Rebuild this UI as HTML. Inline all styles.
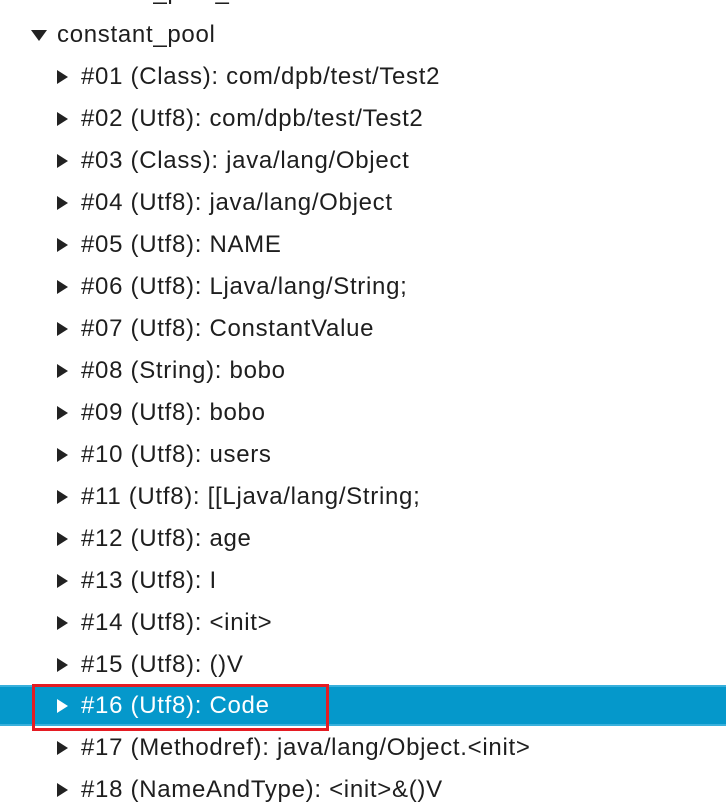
<!DOCTYPE html>
<html><head><style>
body{margin:0;width:726px;height:793px;overflow:hidden;background:#fff;font-family:"Liberation Sans",sans-serif;font-size:24px;letter-spacing:0.7px;color:#1e1e1e;position:relative}
.r{position:absolute;height:42px;line-height:42px;white-space:nowrap}
.t{position:absolute;width:0;height:0;border-top:7px solid transparent;border-bottom:7px solid transparent;border-left:11px solid #222;}
.d{position:absolute;width:0;height:0;border-left:8px solid transparent;border-right:8px solid transparent;border-top:11px solid #222}
.hl{position:absolute;left:0;top:685px;width:726px;height:41px;background:#0598cb;border-top:2px solid #39b0dc;border-bottom:2px solid #39b0dc;box-sizing:border-box}
.box{position:absolute;left:32px;top:684px;width:297px;height:47px;border:3px solid #e51c23;box-sizing:border-box}
</style></head><body>
<div class="r" style="left:57px;top:-29px">constant_pool_count: 36</div>
<div class="d" style="left:31px;top:30px"></div>
<div class="r" style="left:57px;top:14px">constant_pool</div>
<div class="hl"></div>
<div class="t" style="left:57px;top:70px"></div><div class="r" style="left:81px;top:56px">#01 (Class): com/dpb/test/Test2</div>
<div class="t" style="left:57px;top:112px"></div><div class="r" style="left:81px;top:98px">#02 (Utf8): com/dpb/test/Test2</div>
<div class="t" style="left:57px;top:154px"></div><div class="r" style="left:81px;top:140px">#03 (Class): java/lang/Object</div>
<div class="t" style="left:57px;top:196px"></div><div class="r" style="left:81px;top:182px">#04 (Utf8): java/lang/Object</div>
<div class="t" style="left:57px;top:238px"></div><div class="r" style="left:81px;top:224px">#05 (Utf8): NAME</div>
<div class="t" style="left:57px;top:280px"></div><div class="r" style="left:81px;top:266px">#06 (Utf8): Ljava/lang/String;</div>
<div class="t" style="left:57px;top:322px"></div><div class="r" style="left:81px;top:308px">#07 (Utf8): ConstantValue</div>
<div class="t" style="left:57px;top:364px"></div><div class="r" style="left:81px;top:350px">#08 (String): bobo</div>
<div class="t" style="left:57px;top:406px"></div><div class="r" style="left:81px;top:392px">#09 (Utf8): bobo</div>
<div class="t" style="left:57px;top:448px"></div><div class="r" style="left:81px;top:434px">#10 (Utf8): users</div>
<div class="t" style="left:57px;top:490px"></div><div class="r" style="left:81px;top:476px">#11 (Utf8): [[Ljava/lang/String;</div>
<div class="t" style="left:57px;top:532px"></div><div class="r" style="left:81px;top:518px">#12 (Utf8): age</div>
<div class="t" style="left:57px;top:574px"></div><div class="r" style="left:81px;top:560px">#13 (Utf8): I</div>
<div class="t" style="left:57px;top:616px"></div><div class="r" style="left:81px;top:602px">#14 (Utf8): &lt;init&gt;</div>
<div class="t" style="left:57px;top:658px"></div><div class="r" style="left:81px;top:644px">#15 (Utf8): ()V</div>
<div class="t" style="left:57px;top:699px;border-left-color:#fff"></div><div class="r" style="left:81px;top:685px;color:#fff">#16 (Utf8): Code</div>
<div class="t" style="left:57px;top:741px"></div><div class="r" style="left:81px;top:727px">#17 (Methodref): java/lang/Object.&lt;init&gt;</div>
<div class="t" style="left:57px;top:783px"></div><div class="r" style="left:81px;top:769px">#18 (NameAndType): &lt;init&gt;&amp;()V</div>
<div class="box"></div>
</body></html>
